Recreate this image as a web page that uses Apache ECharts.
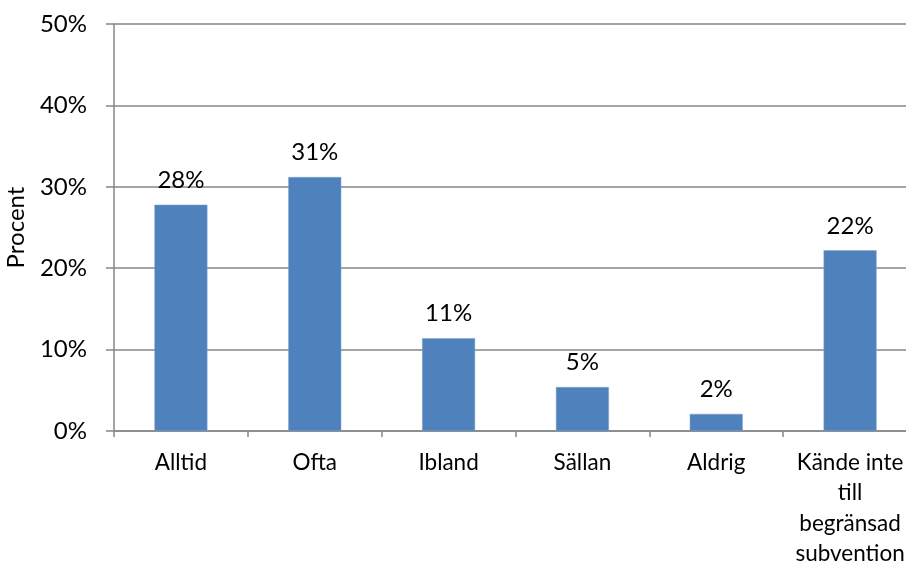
<!DOCTYPE html>
<html>
<head>
<meta charset="utf-8">
<script src="https://cdn.jsdelivr.net/npm/echarts@6/dist/echarts.min.js"></script>
<style>
html,body{margin:0;padding:0;background:#fff;}
#chart{width:906px;height:561px;}
</style>
</head>
<body>
<div id="chart"></div>
<script>
var categories = ["Alltid", "Ofta", "Ibland", "Sällan", "Aldrig", "Kände inte\ntill\nbegränsad\nsubvention"];
var values = [27.8, 31.2, 11.4, 5.4, 2.1, 22.2];
var yTicks = [0, 10, 20, 30, 40, 50];
var yAxisName = "Procent";

var FONT = "Lato, 'Open Sans', sans-serif";
var FS = 24;
var chart = echarts.init(document.getElementById('chart'), null, {renderer: 'canvas'});
chart.setOption({
  animation: false,
  backgroundColor: '#ffffff',
  grid: {left: 114, top: 24, width: 803, height: 407, containLabel: false, outerBoundsMode: 'none'},
  xAxis: {
    type: 'category',
    data: categories,
    axisLine: {show: true, lineStyle: {color: '#868686', width: 1.5}},
    axisTick: {show: true, length: 6, lineStyle: {color: '#868686', width: 1.5}},
    axisLabel: {
      color: '#000', fontFamily: FONT, fontSize: 22.5, lineHeight: 30.5,
      margin: 16, interval: 0
    }
  },
  yAxis: {
    type: 'value',
    min: yTicks[0], max: yTicks[yTicks.length - 1], interval: 10,
    name: yAxisName,
    nameLocation: 'middle',
    nameGap: 86,
    nameRotate: 90,
    nameTextStyle: {color: '#000', fontFamily: FONT, fontSize: FS},
    axisLine: {show: true, lineStyle: {color: '#868686', width: 1.5}},
    axisTick: {show: true, inside: false, length: 8, lineStyle: {color: '#868686', width: 1.5}},
    splitLine: {show: true, lineStyle: {color: '#868686', width: 1.5}},
    axisLabel: {color: '#000', fontFamily: FONT, fontSize: FS, margin: 27, formatter: '{value}%'}
  },
  series: [{
    type: 'bar',
    data: values,
    barWidth: 53,
    itemStyle: {color: '#4f81bd', borderColor: '#7ea4d3', borderWidth: 0.5},
    label: {
      show: true, position: 'top', distance: 12,
      color: '#000', fontFamily: FONT, fontSize: FS, lineHeight: 25,
      formatter: function (p) { return Math.round(p.value) + '%'; }
    }
  }]
});
</script>
</body>
</html>
